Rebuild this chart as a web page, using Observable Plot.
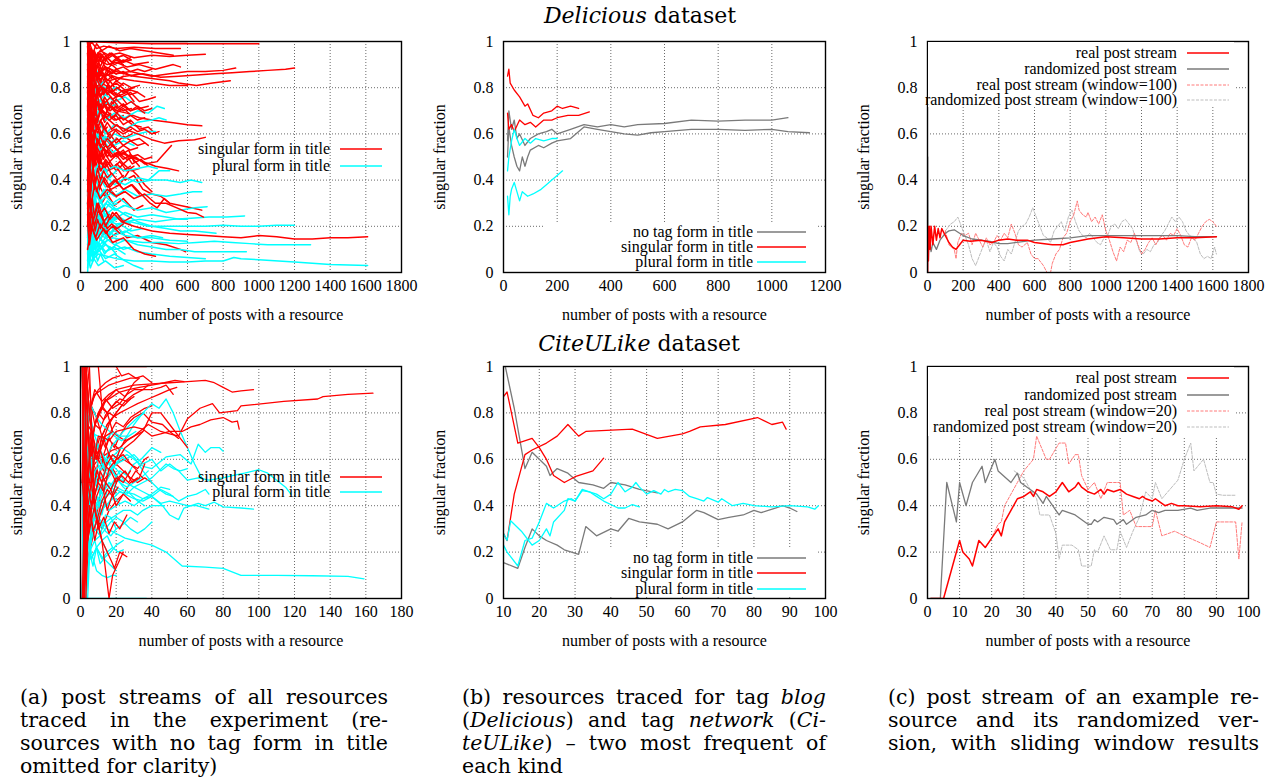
<!DOCTYPE html>
<html><head><meta charset="utf-8">
<script src="https://cdn.jsdelivr.net/npm/d3@7"></script>
<script src="https://cdn.jsdelivr.net/npm/@observablehq/plot@0.6"></script>
<style>
body{margin:0;background:#fff;width:1276px;height:781px;position:relative;overflow:hidden;font-family:"Liberation Serif","Times New Roman",serif;color:#000;}
.panel{position:absolute;}
.panel svg{overflow:visible;}
.title{position:absolute;font-family:"DejaVu Serif",serif;font-size:22px;white-space:nowrap;transform:translate(-50%,-50%);}
.lbox{position:absolute;background:#fff;}
.lrow{position:absolute;font-family:"Liberation Serif","Times New Roman",serif;font-size:16px;white-space:nowrap;transform:translate(-100%,-50%);line-height:16px;}
.lsvg{position:absolute;overflow:visible;}
.cap{position:absolute;width:368px;font-family:"DejaVu Serif",serif;font-size:20.5px;line-height:23px;}
.cap div{text-align:justify;text-align-last:justify;white-space:nowrap;}
.cap div.last{text-align-last:left;}
</style></head>
<body>
<div class="title" style="left:640px;top:15px"><i>Delicious</i> dataset</div>
<div class="title" style="left:639px;top:343px"><i>CiteULike</i> dataset</div>
<script>
// ---------------- tick values ----------------
const yTicks = [0, 0.2, 0.4, 0.6, 0.8, 1];
const xTicksDel = [0, 200, 400, 600, 800, 1000, 1200, 1400, 1600, 1800];
const xTicksBlog = [0, 200, 400, 600, 800, 1000, 1200];
const xTicksCiteAll = [0, 20, 40, 60, 80, 100, 120, 140, 160, 180];
const xTicksCiteNet = [10, 20, 30, 40, 50, 60, 70, 80, 90, 100];
const xTicksCiteEx = [0, 10, 20, 30, 40, 50, 60, 70, 80, 90, 100];

// ---------------- (a) Delicious: all resources, flat [x,y,...] per resource ----------------
const delSingular = [
 [40,1, 150,1, 300,1, 450,1, 600,1],
 [45,1, 200,0.995, 400,0.99, 600,0.99, 800,0.99, 1000,0.99],
 [40,0.95, 60,1, 90,0.97, 130,0.98, 200,0.97, 300,0.975, 420,0.97, 560,0.97],
 [42,0.9, 60,0.97, 80,0.93, 110,0.96, 160,0.94, 220,0.95, 300,0.93, 400,0.94, 500,0.935, 600,0.94, 700,0.945],
 [40,0.85, 55,0.93, 70,0.89, 100,0.92, 150,0.9, 200,0.91, 260,0.89, 330,0.9, 420,0.88, 520,0.9, 560,0.89],
 [40,1, 50,0.8, 65,0.9, 90,0.84, 130,0.88, 200,0.86, 280,0.87, 400,0.85, 500,0.86, 600,0.87, 700,0.87, 800,0.875, 870,0.885],
 [44,0.7, 60,0.85, 80,0.8, 110,0.86, 160,0.83, 250,0.85, 350,0.86, 450,0.845, 550,0.85, 650,0.855, 750,0.86, 850,0.865, 950,0.87, 1050,0.875, 1150,0.88, 1200,0.885],
 [40,0.8, 60,0.92, 90,0.86, 140,0.89, 200,0.87, 300,0.85, 400,0.84, 500,0.83, 550,0.82, 650,0.81, 740,0.82, 840,0.83],
 [48,0.75, 70,0.88, 100,0.83, 150,0.86, 220,0.84, 300,0.83, 400,0.82, 500,0.81, 600,0.81],
 [40,0.6, 55,0.8, 80,0.74, 120,0.8, 170,0.78, 230,0.76, 280,0.78, 330,0.74, 380,0.75, 420,0.76],
 [40,0.7, 60,0.62, 80,0.75, 110,0.7, 150,0.73, 200,0.7, 260,0.69, 330,0.67, 400,0.66, 500,0.65, 600,0.64, 680,0.635],
 [42,0.5, 60,0.7, 90,0.62, 130,0.68, 190,0.64, 250,0.62, 320,0.6, 400,0.575, 470,0.56, 550,0.57, 640,0.575, 700,0.585],
 [40,0.55, 55,0.75, 75,0.68, 100,0.72, 140,0.69, 190,0.66, 240,0.67, 290,0.64, 340,0.63],
 [45,0.9, 60,0.75, 80,0.82, 110,0.77, 150,0.79, 200,0.76, 260,0.78, 300,0.74],
 [40,0.45, 60,0.62, 85,0.55, 120,0.6, 160,0.56, 220,0.52, 280,0.5, 350,0.48, 420,0.46, 490,0.45, 550,0.44],
 [40,0.35, 55,0.6, 75,0.5, 100,0.57, 140,0.52, 180,0.55, 230,0.51, 270,0.53, 300,0.48],
 [40,0.3, 60,0.5, 80,0.42, 110,0.48, 150,0.44, 200,0.46, 250,0.4, 300,0.42, 350,0.36, 400,0.34, 450,0.33, 500,0.3, 560,0.29, 620,0.28, 680,0.27],
 [40,0.4, 55,0.28, 80,0.38, 110,0.32, 150,0.36, 200,0.33, 250,0.35, 300,0.32, 360,0.34, 420,0.3, 480,0.3, 540,0.28, 600,0.26, 650,0.255, 690,0.24],
 [40,0.25, 60,0.42, 90,0.35, 120,0.4, 170,0.36, 220,0.38, 280,0.45, 320,0.42, 360,0.38, 400,0.35],
 [40,0.2, 50,0.35, 70,0.22, 100,0.3, 140,0.2, 180,0.26, 230,0.22, 300,0.2, 400,0.18, 500,0.17, 600,0.165, 700,0.16, 800,0.155, 900,0.15, 1000,0.16, 1100,0.155, 1200,0.145, 1300,0.145, 1400,0.15, 1500,0.15, 1610,0.155],
 [42,0.15, 60,0.25, 80,0.18, 120,0.22, 160,0.16, 200,0.2, 260,0.15, 320,0.16, 400,0.13, 480,0.12, 560,0.1, 590,0.09],
 [40,0.1, 60,0.2, 90,0.14, 130,0.19, 180,0.13, 240,0.15, 300,0.1, 360,0.08, 420,0.07],
 [40,0.65, 50,0.45, 70,0.58, 100,0.5, 140,0.55, 190,0.5, 240,0.53, 290,0.47, 340,0.49, 380,0.46],
 [40,0.8, 50,0.95, 70,0.9, 100,0.95, 140,0.92, 180,0.94, 230,0.91, 280,0.93],
 [40,0.75, 52,0.65, 70,0.72, 90,0.66, 120,0.7, 160,0.66, 200,0.68, 240,0.64, 280,0.66, 330,0.62, 380,0.63, 420,0.6],
 [46,0.6, 60,0.5, 80,0.56, 100,0.48, 130,0.54, 170,0.5, 210,0.52, 260,0.49, 310,0.5, 360,0.47, 430,0.48, 510,0.55],
 [40,0.88, 55,0.78, 70,0.85, 95,0.79, 120,0.82, 160,0.8, 200,0.82, 250,0.79, 300,0.8],
 [40,0.5, 52,0.3, 68,0.45, 90,0.35, 120,0.42, 150,0.37, 190,0.4, 240,0.36, 290,0.38, 340,0.34, 390,0.3, 430,0.28, 470,0.32, 500,0.3],
 [40,0.92, 52,0.99, 70,0.95, 90,0.99, 120,0.96, 160,0.98, 220,0.96, 280,0.97, 360,0.96, 440,0.95, 520,0.94],
 [40,0.68, 50,0.85, 65,0.76, 85,0.82, 110,0.76, 140,0.79, 180,0.75, 220,0.77, 260,0.73],
 [40,0.38, 50,0.55, 65,0.45, 85,0.52, 110,0.44, 140,0.49, 180,0.45, 220,0.48, 260,0.44, 300,0.46],
 [40,0.22, 50,0.12, 65,0.2, 85,0.15, 110,0.21, 140,0.17, 180,0.2, 220,0.17],
 [40,0.58, 48,0.72, 60,0.6, 75,0.68, 95,0.6, 120,0.65, 150,0.6, 190,0.62, 240,0.58, 290,0.6],
 [40,0.82, 50,0.7, 62,0.8, 80,0.72, 100,0.78, 130,0.73, 170,0.76, 210,0.72],
 [40,0.98, 48,0.88, 60,0.95, 75,0.9, 95,0.94, 120,0.91, 150,0.93, 190,0.9, 240,0.92, 300,0.9, 380,0.91],
 [40,0.28, 50,0.18, 62,0.26, 78,0.2, 100,0.27, 130,0.22, 160,0.25],
 [40,0.72, 48,0.55, 60,0.66, 75,0.58, 95,0.64, 120,0.6, 150,0.63],
 [40,1, 47,0.75, 58,0.85, 72,0.78, 90,0.84, 115,0.8, 140,0.83, 180,0.79],
 [40,0.42, 48,0.25, 60,0.36, 75,0.3, 95,0.35, 120,0.3, 150,0.34, 190,0.29, 240,0.32, 300,0.27, 350,0.29],
 [40,0.62, 47,0.4, 58,0.52, 72,0.45, 90,0.5, 115,0.44, 140,0.48, 170,0.43],
 [40,0.95, 48,0.7, 56,0.88, 66,0.74, 78,0.86, 92,0.76, 110,0.84, 135,0.78, 165,0.83, 200,0.79, 240,0.82, 285,0.8, 330,0.81],
 [40,0.6, 48,0.85, 56,0.68, 66,0.8, 78,0.7, 92,0.78, 110,0.71, 135,0.76, 165,0.72, 200,0.75, 240,0.72, 285,0.74, 330,0.71, 380,0.72],
 [40,0.85, 48,0.62, 56,0.78, 66,0.66, 78,0.75, 92,0.67, 110,0.73, 135,0.68, 165,0.72, 200,0.69, 240,0.71, 285,0.68],
 [40,1, 48,0.9, 56,0.97, 66,0.91, 78,0.96, 92,0.92, 110,0.95, 135,0.93, 165,0.95, 200,0.93, 240,0.94, 285,0.92],
 [40,0.7, 48,0.52, 56,0.64, 66,0.55, 78,0.62, 92,0.56, 110,0.61, 135,0.57, 165,0.6, 200,0.56, 240,0.59, 285,0.57, 330,0.58, 380,0.55],
 [40,0.5, 48,0.68, 56,0.56, 66,0.65, 78,0.58, 92,0.64, 110,0.59, 135,0.63, 165,0.58, 200,0.62, 240,0.6, 285,0.62],
 [40,0.9, 48,1, 56,0.85, 66,0.95, 78,0.88, 92,0.94, 110,0.89, 135,0.93, 165,0.9, 200,0.92, 240,0.9],
 [40,0.4, 48,0.58, 56,0.46, 66,0.55, 78,0.48, 92,0.53, 110,0.47, 135,0.52, 165,0.48, 200,0.51, 240,0.47, 285,0.5, 330,0.46],
 [40,0.78, 48,0.6, 56,0.73, 66,0.63, 78,0.71, 92,0.64, 110,0.7, 135,0.65, 165,0.69, 200,0.66, 240,0.68],
 [40,0.3, 48,0.45, 56,0.35, 66,0.43, 78,0.36, 92,0.42, 110,0.37, 135,0.41, 165,0.37, 200,0.4, 240,0.36, 285,0.38, 330,0.34],
 [40,0.65, 48,0.9, 56,0.75, 66,0.86, 78,0.78, 92,0.85, 110,0.8, 135,0.84, 165,0.8, 200,0.83, 240,0.81],
 [40,0.2, 48,0.35, 56,0.25, 66,0.32, 78,0.24, 92,0.3, 110,0.25, 135,0.28, 165,0.23, 200,0.26, 240,0.22, 285,0.24],
 [40,0.55, 48,0.4, 56,0.52, 66,0.43, 78,0.5, 92,0.44, 110,0.49, 135,0.45, 165,0.48, 200,0.44, 240,0.47, 285,0.44, 330,0.45],
 [40,0.98, 48,0.8, 56,0.92, 66,0.83, 78,0.9, 92,0.84, 110,0.89, 135,0.85, 165,0.88, 200,0.86, 240,0.87, 285,0.85, 330,0.86],
 [40,0.1, 48,0.22, 56,0.14, 66,0.2, 78,0.15, 92,0.19, 110,0.14, 135,0.18, 165,0.15, 200,0.17],
 [40,0.75, 48,0.95, 56,0.82, 66,0.92, 78,0.84, 92,0.9, 110,0.85, 135,0.89, 165,0.86, 200,0.88, 240,0.86],
 [40,0.45, 48,0.3, 56,0.4, 66,0.32, 78,0.38, 92,0.33, 110,0.37, 135,0.33, 165,0.36, 200,0.33, 240,0.35],
 [40,0.62, 48,0.78, 56,0.66, 66,0.76, 78,0.68, 92,0.74, 110,0.69, 135,0.73, 165,0.7, 200,0.72, 240,0.7, 285,0.71],
 [40,0.9, 46,0.6, 52,0.8, 60,0.65, 70,0.78, 82,0.68, 96,0.76, 112,0.69, 130,0.75, 150,0.7, 175,0.74, 205,0.71, 240,0.73, 280,0.7, 320,0.72, 360,0.7, 400,0.71],
 [40,0.5, 46,0.8, 52,0.62, 60,0.76, 70,0.64, 82,0.73, 96,0.65, 112,0.71, 130,0.66, 150,0.7, 175,0.67, 205,0.69, 240,0.66, 280,0.68, 320,0.66, 360,0.67],
 [40,1, 46,0.83, 52,0.93, 60,0.85, 70,0.91, 82,0.86, 96,0.9, 112,0.87, 130,0.9, 150,0.88, 175,0.9, 205,0.88, 240,0.89, 280,0.87, 320,0.88, 360,0.87, 400,0.88],
 [40,0.67, 46,0.5, 52,0.62, 60,0.52, 70,0.6, 82,0.53, 96,0.58, 112,0.54, 130,0.57, 150,0.54, 175,0.56, 205,0.53, 240,0.55, 280,0.53, 320,0.54],
 [40,0.8, 46,1, 52,0.86, 60,0.96, 70,0.88, 82,0.95, 96,0.89, 112,0.94, 130,0.9, 150,0.93, 175,0.91, 205,0.93, 240,0.91, 280,0.92],
 [40,0.57, 46,0.71, 52,0.6, 60,0.69, 70,0.61, 82,0.67, 96,0.62, 112,0.66, 130,0.62, 150,0.65, 175,0.62, 205,0.64, 240,0.61, 280,0.63, 320,0.61, 360,0.62, 400,0.6, 440,0.61],
 [40,0.33, 46,0.6, 52,0.45, 60,0.57, 70,0.47, 82,0.55, 96,0.48, 112,0.54, 130,0.49, 150,0.53, 175,0.5, 205,0.52, 240,0.49, 280,0.51, 320,0.49],
 [40,0.88, 46,0.72, 52,0.84, 60,0.74, 70,0.82, 82,0.75, 96,0.81, 112,0.76, 130,0.8, 150,0.77, 175,0.79, 205,0.77, 240,0.79, 280,0.77, 320,0.78, 360,0.76],
 [40,0.62, 46,0.9, 52,0.72, 60,0.86, 70,0.75, 82,0.83, 96,0.76, 112,0.82, 130,0.77, 150,0.81, 175,0.78, 205,0.8, 240,0.78, 280,0.79],
 [40,0.45, 46,0.65, 52,0.52, 60,0.62, 70,0.54, 82,0.6, 96,0.55, 112,0.59, 130,0.55, 150,0.58, 175,0.56, 205,0.58, 240,0.55, 280,0.57, 320,0.55, 360,0.56],
 [40,0.95, 46,0.78, 52,0.9, 60,0.8, 70,0.88, 82,0.81, 96,0.87, 112,0.82, 130,0.86, 150,0.83, 175,0.85, 205,0.83, 240,0.85],
 [40,0.72, 46,0.85, 52,0.74, 60,0.83, 70,0.76, 82,0.82, 96,0.77, 112,0.81, 130,0.77, 150,0.8, 175,0.78, 205,0.8, 240,0.78, 280,0.79, 320,0.78],
 [40,0.4, 46,0.55, 52,0.42, 60,0.52, 70,0.44, 82,0.5, 96,0.44, 112,0.49, 130,0.45, 150,0.48, 175,0.45, 205,0.47, 240,0.44, 280,0.46],
 [40,0.83, 46,0.65, 52,0.77, 60,0.67, 70,0.75, 82,0.68, 96,0.74, 112,0.69, 130,0.73, 150,0.7, 175,0.72, 205,0.7, 240,0.72, 280,0.7, 320,0.71, 360,0.69],
 [40,1, 46,0.88, 52,0.97, 60,0.9, 70,0.96, 82,0.92, 96,0.95, 112,0.92, 130,0.95, 150,0.93, 175,0.95, 205,0.93, 240,0.94],
 [40,0.55, 46,0.35, 52,0.48, 60,0.38, 70,0.46, 82,0.39, 96,0.45, 112,0.4, 130,0.44, 150,0.41, 175,0.43, 205,0.4, 240,0.42],
 [40,0.7, 46,0.95, 52,0.8, 60,0.92, 70,0.83, 82,0.9, 96,0.84, 112,0.89, 130,0.85, 150,0.88, 175,0.86, 205,0.88],
 [40,0.3, 46,0.15, 52,0.26, 60,0.17, 70,0.24, 82,0.18, 96,0.23, 112,0.19, 130,0.22, 150,0.19, 175,0.21, 205,0.19, 240,0.21],
 [40,0.6, 46,0.45, 52,0.58, 60,0.47, 70,0.56, 82,0.48, 96,0.55, 112,0.49, 130,0.54, 150,0.5, 175,0.53, 205,0.5, 240,0.52, 280,0.5, 320,0.51, 360,0.49, 400,0.5],
 [40,0.78, 46,0.92, 52,0.8, 60,0.9, 70,0.82, 82,0.88, 96,0.83, 112,0.87, 130,0.83, 150,0.86, 175,0.84]
];
const delPlural = [
 [40,0.1, 60,0.05, 100,0.08, 200,0.06, 300,0.05, 400,0.05, 500,0.045, 600,0.045, 700,0.05, 800,0.05, 860,0.065, 900,0.06, 1000,0.055, 1200,0.045, 1400,0.035, 1610,0.03],
 [40,0.2, 60,0.12, 90,0.17, 130,0.13, 180,0.15, 250,0.14, 350,0.13, 450,0.13, 550,0.125, 650,0.13, 750,0.135, 850,0.13, 950,0.125, 1050,0.12, 1150,0.12, 1290,0.12],
 [40,0.3, 55,0.18, 75,0.25, 100,0.2, 140,0.23, 200,0.21, 280,0.22, 380,0.2, 480,0.2, 580,0.2, 700,0.2, 800,0.205, 900,0.2, 1000,0.2, 1100,0.205, 1200,0.205],
 [40,0.15, 55,0.28, 75,0.2, 100,0.25, 140,0.21, 190,0.24, 250,0.22, 330,0.23, 420,0.22, 520,0.23, 620,0.235, 720,0.24, 820,0.24, 920,0.245],
 [40,0.4, 55,0.25, 75,0.32, 100,0.26, 140,0.3, 190,0.27, 250,0.29, 320,0.27, 400,0.28, 480,0.26, 560,0.27, 640,0.28, 710,0.285],
 [40,0.45, 55,0.3, 75,0.38, 100,0.32, 140,0.36, 190,0.33, 250,0.36, 320,0.33, 400,0.34, 480,0.33, 560,0.34, 630,0.35, 680,0.35],
 [40,0.5, 55,0.35, 75,0.44, 100,0.37, 140,0.42, 190,0.38, 250,0.41, 320,0.39, 400,0.4, 480,0.4, 560,0.39, 620,0.4, 680,0.39],
 [40,0.6, 55,0.72, 75,0.65, 100,0.7, 140,0.66, 190,0.69, 250,0.67, 320,0.7, 380,0.69, 430,0.72, 470,0.71],
 [40,0.55, 55,0.68, 75,0.62, 100,0.66, 140,0.6, 190,0.64, 250,0.62, 320,0.65, 400,0.66, 440,0.67, 480,0.66],
 [40,0.5, 55,0.62, 75,0.55, 100,0.6, 140,0.57, 190,0.6, 250,0.58, 320,0.6, 380,0.61, 420,0.61],
 [40,0.8, 55,0.72, 75,0.78, 100,0.74, 140,0.77, 190,0.74, 250,0.76, 300,0.73],
 [40,0.25, 55,0.1, 75,0.16, 100,0.11, 140,0.15, 190,0.12, 250,0.14, 320,0.12, 400,0.11, 480,0.1, 560,0.1, 640,0.09, 760,0.09, 860,0.09, 930,0.09],
 [40,0.05, 55,0.12, 75,0.07, 100,0.1, 140,0.06, 190,0.08, 250,0.05, 300,0.03, 350,0.015],
 [40,0.35, 55,0.2, 75,0.28, 100,0.22, 140,0.27, 190,0.23, 250,0.26, 320,0.24, 400,0.25, 480,0.24, 560,0.23, 600,0.23],
 [40,0.18, 55,0.32, 75,0.24, 100,0.3, 140,0.25, 190,0.28, 250,0.25, 320,0.22, 400,0.2, 480,0.19, 560,0.18, 640,0.18, 760,0.17],
 [40,0.12, 55,0.22, 75,0.15, 100,0.2, 140,0.16, 190,0.18, 250,0.16, 320,0.15, 400,0.15, 500,0.14, 600,0.135],
 [40,0.7, 55,0.82, 75,0.76, 100,0.8, 140,0.77, 190,0.8, 240,0.78],
 [40,0.3, 55,0.45, 75,0.36, 100,0.42, 140,0.37, 190,0.4, 250,0.38, 320,0.41, 380,0.4, 440,0.44, 500,0.44],
 [40,0.08, 55,0.02, 75,0.06, 100,0.03, 140,0.05, 190,0.02, 240,0.03],
 [40,0.22, 55,0.08, 75,0.14, 100,0.09, 140,0.12, 190,0.1, 250,0.11, 320,0.09, 400,0.08, 500,0.07, 600,0.065, 700,0.06],
 [40,0.65, 55,0.55, 75,0.6, 100,0.56, 140,0.59, 190,0.55, 240,0.57, 300,0.55],
 [40,0.92, 50,0.85, 65,0.9, 85,0.86, 110,0.88],
 [40,0.38, 55,0.5, 75,0.43, 100,0.47, 140,0.44, 190,0.46, 250,0.44, 320,0.45, 380,0.46, 430,0.45],
 [40,0.28, 55,0.14, 75,0.2, 100,0.16, 140,0.19, 190,0.16, 250,0.18, 320,0.15, 400,0.16, 460,0.15],
 [40,0.02, 55,0.15, 75,0.08, 100,0.13, 140,0.09, 190,0.11, 250,0.08],
 [40,0.16, 50,0.26, 65,0.19, 85,0.24, 110,0.2, 140,0.22, 180,0.19, 220,0.21, 280,0.18, 350,0.19],
 [40,0.85, 50,0.78, 65,0.83, 85,0.79, 110,0.81, 140,0.8],
 [40,0.45, 50,0.6, 65,0.52, 85,0.57, 110,0.53, 140,0.56, 180,0.52, 220,0.54],
 [40,0.1, 50,0.3, 65,0.22, 85,0.27, 110,0.22, 140,0.25, 180,0.22, 220,0.24, 280,0.21],
 [40,0.25, 50,0.38, 65,0.3, 85,0.35, 110,0.3, 140,0.33, 180,0.3, 220,0.32, 270,0.29],
 [40,0.12, 48,0.25, 56,0.16, 66,0.23, 78,0.17, 92,0.22, 110,0.17, 135,0.21, 165,0.17, 200,0.2, 240,0.17, 285,0.19],
 [40,0.3, 48,0.15, 56,0.26, 66,0.17, 78,0.24, 92,0.18, 110,0.23, 135,0.19, 165,0.22, 200,0.19, 240,0.21],
 [40,0.05, 48,0.18, 56,0.09, 66,0.16, 78,0.1, 92,0.14, 110,0.1, 135,0.13, 165,0.1, 200,0.12, 240,0.1, 285,0.11],
 [40,0.4, 48,0.22, 56,0.34, 66,0.25, 78,0.32, 92,0.26, 110,0.31, 135,0.27, 165,0.3, 200,0.27, 240,0.29],
 [40,0.2, 48,0.05, 56,0.15, 66,0.07, 78,0.13, 92,0.08, 110,0.12, 135,0.08, 165,0.11, 200,0.08],
 [40,0.5, 48,0.65, 56,0.55, 66,0.62, 78,0.56, 92,0.6, 110,0.56, 135,0.59, 165,0.56, 200,0.58],
 [40,0.35, 48,0.5, 56,0.4, 66,0.47, 78,0.41, 92,0.46, 110,0.42, 135,0.45, 165,0.41, 200,0.44],
 [40,0.75, 48,0.88, 56,0.8, 66,0.85, 78,0.8, 92,0.84, 110,0.81, 135,0.83],
 [40,0.15, 48,0.3, 56,0.2, 66,0.27, 78,0.21, 92,0.26, 110,0.22, 135,0.25, 165,0.22, 200,0.24, 240,0.22],
 [40,0.25, 48,0.12, 56,0.2, 66,0.13, 78,0.19, 92,0.14, 110,0.18, 135,0.15, 165,0.17],
 [40,0.65, 46,0.8, 52,0.68, 60,0.77, 70,0.7, 82,0.76, 96,0.71, 112,0.75, 130,0.72, 150,0.74, 175,0.72, 205,0.73],
 [40,0.3, 46,0.1, 52,0.22, 60,0.12, 70,0.2, 82,0.13, 96,0.19, 112,0.14, 130,0.18, 150,0.15, 175,0.17],
 [40,0.2, 46,0.38, 52,0.26, 60,0.35, 70,0.27, 82,0.33, 96,0.28, 112,0.32, 130,0.28, 150,0.31, 175,0.29, 205,0.3],
 [40,0.08, 46,0.2, 52,0.1, 60,0.18, 70,0.11, 82,0.16, 96,0.11, 112,0.15, 130,0.12, 150,0.14],
 [40,0.45, 46,0.28, 52,0.4, 60,0.3, 70,0.38, 82,0.31, 96,0.37, 112,0.32, 130,0.36, 150,0.33, 175,0.35],
 [40,0, 46,0.12, 52,0.04, 60,0.1, 70,0.05, 82,0.09, 96,0.05, 112,0.08, 130,0.05]
];

// ---------------- (a) CiteULike: all resources ----------------
const citeSingular = [
 [1,1, 10,1, 20,1, 30,1, 37,1],
 [2,0, 3,1, 5,0.8, 8,0.9, 12,0.85, 16,0.88, 20,0.9, 25,0.91, 30,0.92, 40,0.925, 50,0.93, 60,0.935, 70,0.94, 75,0.93, 80,0.91, 85,0.89, 90,0.895, 97,0.9],
 [1,0.5, 3,1, 5,0.5, 7,0.7, 10,0.6, 14,0.62, 18,0.64, 22,0.65, 26,0.68, 30,0.7, 38,0.75, 45,0.72, 50,0.71, 55,0.7, 60,0.775, 67,0.82, 74,0.84, 78,0.8, 88,0.81, 90,0.83, 114,0.85, 133,0.86, 136,0.87, 150,0.88, 164,0.885],
 [2,1, 4,0.5, 6,0.75, 9,0.6, 12,0.7, 16,0.68, 20,0.72, 25,0.73, 30,0.74, 35,0.73, 40,0.7, 45,0.71, 50,0.72, 57,0.72, 62,0.74, 67,0.75, 73,0.77, 80,0.78, 85,0.76, 88,0.765, 89,0.73],
 [1,0, 2,0.5, 4,0.33, 6,0.6, 9,0.55, 12,0.7, 15,0.75, 20,0.8, 25,0.85, 30,0.88, 35,0.9, 40,0.9, 45,0.91, 48,0.92, 52,0.88],
 [3,1, 5,0.6, 8,0.75, 11,0.8, 14,0.85, 18,0.87, 22,0.89, 27,0.9, 33,0.91, 40,0.92, 47,0.93, 53,0.94, 58,0.935],
 [1,1, 3,0.67, 5,0.8, 8,0.88, 12,0.9, 16,0.92, 20,0.93, 24,0.94, 28,0.95, 32,0.95],
 [2,0, 4,0.5, 6,0.4, 9,0.55, 12,0.5, 15,0.58, 18,0.62, 21,0.6, 25,0.65, 30,0.68, 35,0.72, 40,0.8, 45,0.8, 50,0.75, 55,0.7, 60,0.65],
 [1,0, 5,0.2, 8,0.3, 11,0.45, 14,0.5, 17,0.55, 20,0.58, 24,0.6, 28,0.58, 32,0.56, 36,0.6, 38,0.61],
 [2,1, 4,0.25, 6,0.33, 9,0.44, 12,0.5, 15,0.38, 18,0.45, 21,0.52, 25,0.55, 29,0.5, 33,0.52, 36,0.58],
 [1,0, 3,0, 5,0.2, 8,0.37, 12,0.3, 16,0.38, 20,0.42, 24,0.45, 28,0.5, 32,0.52],
 [1,1, 3,0.33, 6,0.5, 9,0.35, 12,0.25, 15,0.2, 18,0.15, 19,0.13, 22,0.2, 26,0.18],
 [2,0.5, 4,0.75, 7,0.57, 10,0.6, 13,0.55, 16,0.62, 20,0.58, 24,0.55, 28,0.52, 32,0.5, 36,0.52, 40,0.5],
 [1,1, 2,0.5, 4,0.75, 7,0.71, 10,0.8, 14,0.86, 18,0.82, 22,0.84, 26,0.88, 30,0.9, 35,0.9, 38,0.92],
 [3,0, 5,0.4, 7,0.57, 10,0.5, 13,0.62, 16,0.69, 19,0.65, 22,0.7, 26,0.75, 30,0.78, 35,0.8, 40,0.76, 46,0.75, 50,0.72, 55,0.69],
 [1,0.5, 3,0.33, 5,0.6, 8,0.44, 11,0.55, 14,0.5, 17,0.47, 20,0.4, 24,0.45, 28,0.42],
 [2,1, 4,0.5, 6,0.67, 9,0.78, 12,0.7, 15,0.75, 18,0.78, 22,0.8, 27,0.82, 32,0.84, 38,0.86, 44,0.88, 50,0.9, 54,0.91],
 [1,0, 4,0.25, 7,0.43, 10,0.3, 13,0.35, 16,0.28, 19,0.33, 22,0.3, 26,0.36],
 [1,1, 3,1, 5,0.8, 7,0.86, 10,0.9, 14,0.93, 18,0.95, 22,0.96],
 [2,0, 4,0.33, 7,0.43, 10,0.5, 13,0.46, 16,0.56, 20,0.6, 24,0.62, 28,0.58, 32,0.55],
 [1,1, 5,0.6, 8,0.62, 11,0.7, 14,0.65, 17,0.72, 20,0.76, 24,0.74, 28,0.78, 32,0.8, 36,0.82, 40,0.83],
 [3,1, 5,0.8, 8,0.6, 11,0.64, 14,0.57, 17,0.55, 20,0.5, 23,0.53, 27,0.5, 31,0.55, 35,0.52],
 [1,0.5, 3,0.67, 6,0.83, 9,0.78, 12,0.82, 15,0.8, 18,0.83, 22,0.86, 26,0.85, 30,0.87],
 [2,0, 5,0.4, 8,0.25, 11,0.36, 14,0.43, 17,0.47, 20,0.52, 24,0.5, 28,0.55],
 [4,1, 6,0.83, 9,0.78, 12,0.83, 15,0.8, 18,0.72, 21,0.7, 25,0.68, 30,0.7, 35,0.72],
 [5,1, 8,0.38, 12,0.25, 16,0, 18,0.1, 21,0.15, 24,0.2],
 [10,1, 12,0.83, 15,0.86, 20,0.9, 25,0.87, 30,0.93, 33,0.95],
 [20,1, 23,0.96, 27,0.97, 31,0.95, 35,0.96, 40,0.93],
 [1,0, 2,1, 3,0.67, 4,0.75, 6,0.83, 8,0.75, 10,0.8, 13,0.77, 16,0.8, 20,0.78],
 [1,1, 2,0, 3,0.33, 4,0.5, 6,0.67, 8,0.62, 11,0.64, 14,0.7, 18,0.72],
 [1,1, 2,0.5, 3,0.67, 5,0.4, 7,0.57, 9,0.67, 12,0.58, 15,0.6, 18,0.67, 22,0.64, 26,0.7],
 [1,0, 3,0.67, 4,0.5, 6,0.5, 8,0.62, 10,0.7, 13,0.69, 16,0.75, 19,0.79, 23,0.83],
 [2,1, 3,0.67, 5,0.6, 7,0.43, 9,0.56, 12,0.5, 15,0.53, 18,0.56, 21,0.52],
 [1,0.5, 2,1, 4,0.75, 6,0.5, 8,0.62, 10,0.6, 13,0.69, 16,0.62, 19,0.58, 22,0.64],
 [1,0, 2,0, 4,0.5, 6,0.67, 8,0.75, 11,0.73, 14,0.79, 17,0.82, 20,0.85, 24,0.83, 28,0.86],
 [3,0, 4,0.25, 5,0.4, 7,0.29, 9,0.33, 12,0.42, 15,0.47, 18,0.44, 21,0.48]
];
const citePlural = [
 [1,0, 10,0, 20,0, 30,0, 37,0],
 [2,1, 4,0.5, 7,0.43, 10,0.35, 15,0.3, 20,0.28, 25,0.26, 30,0.25, 35,0.24, 40,0.23, 48,0.2, 57,0.14, 70,0.135, 80,0.13, 90,0.1, 110,0.1, 130,0.098, 150,0.095, 159,0.085],
 [1,1, 3,0.5, 6,0.6, 9,0.5, 12,0.45, 16,0.5, 20,0.48, 25,0.46, 30,0.45, 35,0.43, 40,0.44, 46,0.4, 50,0.36, 55,0.34, 58,0.39, 62,0.4, 66,0.41, 70,0.4, 75,0.415, 80,0.395, 90,0.39, 97,0.385],
 [2,0, 4,0.25, 7,0.43, 10,0.5, 14,0.55, 18,0.57, 22,0.6, 26,0.62, 30,0.6, 35,0.57, 40,0.56, 48,0.61, 56,0.62, 62,0.58, 66,0.665, 70,0.63, 73,0.65, 78,0.65, 80,0.635],
 [1,0.5, 3,0.67, 6,0.5, 9,0.56, 12,0.58, 16,0.55, 20,0.58, 25,0.6, 30,0.62, 35,0.58, 40,0.6, 45,0.55, 50,0.58, 55,0.55, 60,0.51, 66,0.52, 72,0.51, 80,0.52, 85,0.53, 92,0.54, 100,0.555, 105,0.54, 110,0.51, 115,0.48, 118,0.45],
 [3,0, 5,0.2, 8,0.37, 12,0.42, 16,0.45, 20,0.47, 25,0.45, 30,0.43, 35,0.42, 40,0.44, 45,0.41, 50,0.42, 55,0.41, 60,0.4, 65,0.4, 72,0.385],
 [1,1, 4,0.75, 7,0.71, 10,0.7, 14,0.68, 18,0.72, 22,0.7, 26,0.7, 30,0.75, 35,0.8, 40,0.84, 44,0.82, 48,0.86, 52,0.8, 56,0.72, 60,0.65, 64,0.58, 68,0.52],
 [2,0.5, 4,0.33, 7,0.29, 10,0.3, 13,0.32, 16,0.34, 20,0.36, 24,0.38, 28,0.38, 32,0.36, 35,0.38, 40,0.4, 47,0.4],
 [1,0, 3,0.33, 6,0.2, 9,0.12, 12,0.1, 15,0.09, 18,0.1, 20,0.1],
 [1,1, 3,0.67, 5,0.6, 8,0.5, 11,0.55, 15,0.6, 19,0.62, 23,0.65, 27,0.63, 31,0.6, 35,0.55, 40,0.5, 44,0.47, 48,0.45, 52,0.44],
 [2,0, 4,0.25, 6,0.17, 9,0.22, 12,0.25, 15,0.2, 18,0.22, 21,0.2, 24,0.21],
 [1,0.5, 4,0.4, 7,0.33, 10,0.36, 14,0.4, 18,0.43, 22,0.46, 26,0.45, 30,0.48, 35,0.46, 40,0.44, 45,0.47, 50,0.45, 55,0.42, 60,0.44, 65,0.45, 70,0.47, 72,0.45],
 [3,1, 5,0.6, 8,0.5, 11,0.45, 14,0.5, 18,0.55, 22,0.5, 26,0.48, 30,0.5, 34,0.52, 38,0.55],
 [1,0, 2,0.5, 5,0.4, 8,0.3, 11,0.27, 14,0.3, 17,0.33, 20,0.35, 24,0.33, 28,0.3, 32,0.28, 36,0.3, 40,0.33],
 [2,1, 4,0.75, 6,0.83, 9,0.78, 12,0.75, 15,0.73, 19,0.7, 23,0.68, 27,0.7, 31,0.72],
 [1,0.5, 3,0.33, 6,0.17, 9,0.22, 12,0.18, 16,0.15, 20,0.12],
 [4,0, 6,0.33, 9,0.44, 12,0.36, 15,0.47, 18,0.5, 22,0.55, 26,0.53, 30,0.58, 34,0.6, 40,0.65, 45,0.63],
 [1,0, 3,0.67, 5,0.4, 8,0.38, 11,0.33, 14,0.29, 17,0.27, 20,0.3, 24,0.32, 28,0.35, 32,0.33],
 [2,0.5, 5,0.6, 8,0.62, 11,0.55, 14,0.6, 17,0.65, 20,0.68, 24,0.72, 28,0.75, 32,0.78, 36,0.8],
 [1,1, 3,0.33, 6,0.33, 9,0.4, 12,0.42, 16,0.38, 20,0.4, 25,0.42, 30,0.4, 35,0.43, 40,0.45, 45,0.48, 50,0.47],
 [3,0.5, 5,0.2, 8,0.25, 11,0.15, 14,0.18, 17,0.2, 20,0.23, 24,0.25],
 [1,0, 4,0.5, 6,0.57, 9,0.67, 12,0.62, 16,0.58, 20,0.52, 24,0.48, 28,0.45, 32,0.42, 36,0.4],
 [2,1, 5,0.8, 8,0.7, 11,0.64, 14,0.6, 17,0.58, 21,0.55, 25,0.5, 30,0.48, 35,0.5, 40,0.52, 44,0.55, 48,0.58, 52,0.56, 56,0.55, 60,0.56],
 [1,1, 2,0.5, 3,0.33, 5,0.2, 7,0.29, 9,0.33, 12,0.25, 15,0.27, 18,0.22],
 [1,0, 2,0.5, 3,0.67, 5,0.6, 7,0.43, 9,0.44, 12,0.42, 15,0.4, 18,0.44, 22,0.41],
 [1,0, 2,0, 3,0, 5,0.2, 7,0.14, 9,0.22, 12,0.17, 15,0.2],
 [1,1, 2,1, 3,0.67, 5,0.4, 7,0.43, 10,0.4, 13,0.46, 16,0.5, 20,0.45],
 [2,0, 3,0.33, 4,0.5, 6,0.33, 8,0.38, 11,0.45, 14,0.5, 17,0.47, 21,0.52, 25,0.5],
 [1,0.5, 2,0, 4,0.25, 6,0.33, 8,0.25, 11,0.27, 14,0.36, 17,0.35, 20,0.3],
 [1,1, 3,0.33, 5,0.6, 7,0.57, 9,0.67, 12,0.58, 15,0.53, 18,0.56, 22,0.6],
 [1,0, 2,0.5, 3,0.33, 5,0.4, 8,0.5, 11,0.45, 14,0.57, 17,0.59, 21,0.62, 25,0.6]
];

// ---------------- (b) Delicious, tag "blog" ----------------
const blogNoTag = [
 [15,0.57, 20,0.7, 30,0.62, 40,0.66, 50,0.58, 60,0.6, 80,0.55, 100,0.58, 130,0.6, 160,0.61, 180,0.62, 200,0.6, 250,0.62, 300,0.64, 350,0.63, 400,0.64, 450,0.63, 500,0.64, 600,0.645, 700,0.66, 800,0.655, 900,0.66, 1000,0.66, 1060,0.67],
 [15,0.5, 20,0.63, 30,0.55, 40,0.5, 50,0.46, 60,0.44, 70,0.5, 80,0.46, 90,0.5, 100,0.53, 130,0.55, 150,0.54, 180,0.56, 200,0.57, 250,0.58, 300,0.63, 350,0.62, 400,0.61, 450,0.6, 500,0.595, 550,0.605, 600,0.61, 700,0.62, 800,0.62, 900,0.615, 1000,0.62, 1060,0.61, 1140,0.605]
];
const blogSingular = [
 [15,0.85, 20,0.88, 25,0.82, 40,0.79, 60,0.76, 80,0.72, 90,0.73, 110,0.68, 130,0.67, 150,0.69, 180,0.7, 200,0.72, 220,0.71, 250,0.72, 280,0.71],
 [15,0.69, 20,0.62, 30,0.64, 40,0.61, 60,0.66, 80,0.64, 100,0.65, 120,0.63, 150,0.66, 180,0.66, 200,0.67, 240,0.68, 280,0.68, 320,0.695]
];
const blogPlural = [
 [15,0.44, 20,0.5, 30,0.57, 40,0.62, 50,0.58, 60,0.55, 80,0.58, 100,0.56, 120,0.58, 150,0.57, 180,0.58, 200,0.58],
 [15,0.33, 20,0.25, 25,0.33, 30,0.36, 40,0.39, 50,0.35, 60,0.31, 70,0.35, 90,0.33, 110,0.34, 140,0.36, 160,0.38, 180,0.4, 200,0.42, 220,0.44]
];

// ---------------- (b) CiteULike, tag "network" ----------------
const netNoTag = [
 [10.5,1, 13,0.82, 16,0.56, 18,0.63, 20,0.6, 22,0.57, 23,0.53, 25,0.56, 28,0.54, 31,0.5, 35,0.49, 38,0.475, 40,0.5, 44,0.49, 48,0.47, 53,0.455],
 [10,0.155, 14,0.13, 16,0.22, 18,0.3, 20,0.27, 22,0.25, 25,0.23, 27,0.21, 31,0.19, 33,0.31, 36,0.27, 40,0.3, 42,0.29, 45,0.345, 48,0.33, 53,0.32, 56,0.3, 60,0.33, 64,0.38, 66,0.37, 70,0.34, 73,0.35, 77,0.36, 80,0.38, 82,0.37, 86,0.39, 88,0.4, 90,0.39, 92,0.375]
];
const netSingular = [
 [10,0.87, 11,0.89, 14,0.67, 18,0.69, 20,0.65, 22,0.6, 24,0.53, 27,0.5, 30,0.525, 35,0.55, 38,0.605],
 [10,0.28, 11,0.25, 13,0.45, 16,0.62, 18,0.64, 22,0.67, 25,0.7, 28,0.75, 31,0.7, 33,0.72, 46,0.73, 53,0.69, 60,0.71, 62,0.72, 65,0.74, 72,0.75, 81,0.78, 85,0.75, 88,0.76, 89,0.73]
];
const netPlural = [
 [10,0.28, 11,0.25, 12,0.335, 15,0.29, 17,0.25, 18,0.23, 20,0.25, 22,0.3, 23,0.27, 24,0.33, 27,0.38, 28,0.43, 30,0.42, 32,0.47, 34,0.46, 36,0.44, 38,0.42, 42,0.39, 44,0.39, 46,0.405, 48,0.395],
 [10,0.23, 11,0.2, 14,0.14, 16,0.25, 18,0.26, 20,0.33, 22,0.41, 24,0.39, 27,0.42, 29,0.43, 30,0.42, 32,0.465, 34,0.46, 36,0.45, 38,0.43, 40,0.45, 42,0.5, 44,0.46, 46,0.48, 47,0.5, 48,0.48, 50,0.45, 52,0.465, 54,0.45, 55,0.47, 56,0.46, 58,0.47, 60,0.465, 62,0.44, 64,0.43, 66,0.42, 67,0.435, 70,0.415, 71,0.43, 74,0.4, 77,0.41, 80,0.4, 85,0.395, 90,0.4, 95,0.395, 97,0.385, 98,0.4]
];

// ---------------- (c) Delicious example resource ----------------
const exDelReal = [0,0, 1,0, 2,0.2, 5,0.05, 10,0.2, 15,0.1, 20,0.2, 30,0.12, 40,0.2, 50,0.14, 60,0.19, 70,0.15, 80,0.19, 100,0.16, 120,0.13, 140,0.11, 160,0.1, 180,0.12, 200,0.14, 240,0.135, 300,0.14, 360,0.13, 400,0.14, 450,0.145, 500,0.14, 560,0.14, 600,0.13, 700,0.12, 760,0.12, 800,0.13, 900,0.145, 1000,0.155, 1100,0.15, 1200,0.145, 1300,0.145, 1400,0.15, 1500,0.15, 1620,0.155];
const exDelRand = [1,0.5, 3,0.1, 10,0.15, 20,0.09, 30,0.13, 50,0.1, 70,0.14, 100,0.17, 120,0.18, 150,0.185, 180,0.17, 200,0.16, 250,0.145, 300,0.14, 350,0.135, 400,0.125, 450,0.125, 500,0.13, 600,0.14, 700,0.145, 800,0.15, 900,0.16, 1000,0.16, 1100,0.16, 1200,0.16, 1300,0.16, 1400,0.16, 1500,0.155, 1620,0.155];
const exDelRealWin = [100,0.18, 120,0.12, 150,0.1, 160,0.06, 170,0.13, 190,0.17, 210,0.16, 230,0.17, 250,0.12, 270,0.17, 290,0.14, 310,0.11, 330,0.15, 350,0.12, 370,0.13, 390,0.16, 410,0.14, 430,0.17, 450,0.15, 470,0.21, 490,0.17, 510,0.12, 530,0.11, 560,0.13, 580,0.08, 600,0.06, 620,0.06, 650,0.03, 670,0, 690,0, 700,0.04, 720,0.08, 740,0.1, 760,0.15, 780,0.17, 800,0.22, 820,0.25, 840,0.31, 850,0.27, 870,0.25, 890,0.24, 900,0.26, 920,0.22, 940,0.24, 960,0.21, 980,0.25, 1000,0.18, 1020,0.14, 1040,0.09, 1060,0.05, 1080,0.11, 1100,0.09, 1120,0.14, 1140,0.13, 1160,0.17, 1180,0.12, 1200,0.08, 1220,0.1, 1240,0.13, 1260,0.15, 1280,0.12, 1300,0.15, 1320,0.16, 1340,0.14, 1360,0.17, 1380,0.16, 1400,0.19, 1420,0.16, 1440,0.12, 1460,0.11, 1480,0.15, 1500,0.14, 1520,0.17, 1540,0.2, 1560,0.22, 1580,0.23, 1600,0.22, 1620,0.2];
const exDelRandWin = [100,0.18, 130,0.21, 150,0.22, 170,0.24, 190,0.2, 210,0.16, 230,0.12, 250,0.06, 270,0.03, 290,0.07, 310,0.11, 330,0.14, 350,0.09, 370,0.13, 390,0.11, 410,0.07, 430,0.05, 450,0.1, 470,0.08, 490,0.13, 510,0.18, 530,0.2, 550,0.21, 570,0.24, 590,0.28, 610,0.24, 630,0.2, 650,0.16, 670,0.15, 690,0.13, 710,0.18, 730,0.2, 750,0.22, 770,0.18, 790,0.24, 810,0.27, 830,0.22, 850,0.18, 870,0.16, 890,0.15, 910,0.17, 930,0.15, 950,0.13, 970,0.12, 990,0.15, 1010,0.16, 1030,0.2, 1050,0.21, 1070,0.19, 1090,0.22, 1110,0.23, 1130,0.21, 1150,0.19, 1170,0.14, 1190,0.09, 1210,0.08, 1230,0.1, 1250,0.09, 1270,0.12, 1290,0.13, 1310,0.16, 1330,0.18, 1350,0.21, 1370,0.24, 1390,0.22, 1410,0.24, 1430,0.22, 1450,0.18, 1470,0.16, 1490,0.15, 1510,0.13, 1530,0.08, 1550,0.06, 1570,0.07, 1590,0.06, 1610,0.11, 1620,0.08];

// ---------------- (c) CiteULike example resource ----------------
const exCiteReal = [1,0, 2,0, 3,0, 4,0, 5,0, 10,0.25, 11,0.2, 13,0.17, 14,0.14, 16,0.25, 18,0.22, 20,0.26, 22,0.3, 23,0.27, 24,0.33, 26,0.38, 28,0.43, 30,0.44, 32,0.46, 33,0.44, 34,0.47, 36,0.46, 38,0.44, 40,0.46, 42,0.5, 44,0.46, 46,0.48, 47,0.5, 48,0.48, 50,0.46, 52,0.45, 54,0.47, 55,0.45, 56,0.47, 58,0.46, 60,0.47, 62,0.45, 64,0.44, 66,0.43, 67,0.44, 68,0.43, 70,0.42, 71,0.43, 72,0.42, 74,0.4, 76,0.41, 78,0.4, 80,0.4, 85,0.395, 90,0.4, 95,0.395, 97,0.385, 98,0.4];
const exCiteRand = [1,0, 2,0, 3,0, 4,0, 6,0.5, 9,0.33, 10,0.5, 12,0.4, 14,0.5, 17,0.57, 18,0.5, 21,0.6, 22,0.55, 26,0.5, 28,0.54, 29,0.5, 32,0.47, 34,0.45, 36,0.41, 37,0.44, 40,0.38, 41,0.36, 42,0.38, 46,0.36, 50,0.32, 51,0.32, 52,0.34, 53,0.33, 55,0.35, 58,0.34, 59,0.32, 61,0.34, 62,0.32, 65,0.35, 68,0.36, 70,0.38, 72,0.37, 74,0.38, 78,0.38, 82,0.39, 84,0.38, 88,0.39, 92,0.39, 96,0.39, 98,0.39];
const exCiteRealWin = [18,0.22, 20,0.26, 22,0.32, 23,0.33, 24,0.4, 26,0.45, 28,0.5, 30,0.55, 33,0.6, 34,0.7, 37,0.6, 38,0.6, 41,0.67, 43,0.67, 44,0.58, 46,0.62, 47,0.62, 48,0.53, 50,0.47, 52,0.5, 54,0.43, 56,0.5, 58,0.5, 60,0.5, 61,0.36, 63,0.38, 65,0.31, 68,0.31, 70,0.31, 71,0.38, 73,0.27, 77,0.29, 80,0.27, 85,0.24, 88,0.22, 90,0.33, 95,0.33, 96,0.33, 97,0.17, 98,0.33];
const exCiteRandWin = [27,0.55, 30,0.52, 32,0.47, 34,0.43, 35,0.36, 38,0.36, 40,0.28, 41,0.17, 42,0.23, 45,0.23, 47,0.21, 48,0.14, 51,0.14, 52,0.21, 53,0.2, 55,0.27, 57,0.21, 59,0.21, 60,0.29, 62,0.22, 64,0.29, 66,0.35, 68,0.46, 70,0.43, 71,0.5, 73,0.43, 78,0.51, 80,0.6, 82,0.67, 83,0.55, 86,0.6, 88,0.5, 89,0.5, 90,0.45, 92,0.445, 96,0.445];

// ---------------- helpers ----------------
const RED = "#ff0000", CYAN = "#00ffff", GRAY = "#7a7a7a", LRED = "#ff7a7a", LGRAY = "#bdbdbd";
const FONT = "'Liberation Serif', 'Times New Roman', serif";
const rows = (list, key) => list.flatMap((flat, i) => {
  const out = [];
  for (let j = 0; j < flat.length; j += 2) out.push({x: flat[j], y: flat[j + 1], id: key + i});
  return out;
});
const fmtY = d => String(+d.toFixed(1));
const fmtX = d => String(d);

function panel(cfg) {
  const marks = [
    Plot.gridX({ticks: cfg.xTicks, stroke: "#6a6a6a", strokeOpacity: 1, strokeDasharray: "1,2"}),
    Plot.gridY({ticks: yTicks, stroke: "#6a6a6a", strokeOpacity: 1, strokeDasharray: "1,2"}),
    ...cfg.series.map(s => Plot.line(s.data, {x: "x", y: "y", z: "id", stroke: s.color, strokeWidth: s.w || 1.3,
      strokeDasharray: s.dash || null, clip: true, curve: "linear"})),
    Plot.axisX({ticks: cfg.xTicks, tickFormat: fmtX, tickSize: 0, tickPadding: 7, fontFamily: FONT, fontSize: 16,
      label: "number of posts with a resource", labelAnchor: "center", labelArrow: "none", labelOffset: 47}),
    Plot.axisY({ticks: yTicks, tickFormat: fmtY, tickSize: 0, tickPadding: 10, fontFamily: FONT, fontSize: 16,
      label: "singular fraction", labelAnchor: "center", labelArrow: "none", labelOffset: 70}),
    Plot.frame({stroke: "#000", strokeWidth: 1.4})
  ];
  const svg = Plot.plot({
    width: cfg.width, height: 310,
    marginLeft: cfg.ml, marginRight: cfg.mr, marginTop: cfg.mt, marginBottom: 68,
    x: {domain: cfg.xDomain}, y: {domain: [0, 1]},
    style: {fontFamily: FONT, fontSize: "16px", background: "transparent", color: "#000", overflow: "visible"},
    marks
  });
  const div = document.createElement("div");
  div.className = "panel";
  div.style.left = cfg.left + "px"; div.style.top = cfg.top + "px";
  div.appendChild(svg);
  document.body.appendChild(div);
}

function legend(cfg) {
  if (cfg.box) {
    const b = document.createElement("div");
    b.className = "lbox";
    Object.assign(b.style, {left: cfg.box[0] + "px", top: cfg.box[1] + "px", width: (cfg.box[2] - cfg.box[0]) + "px", height: (cfg.box[3] - cfg.box[1]) + "px"});
    document.body.appendChild(b);
  }
  cfg.items.forEach((it, i) => {
    const y = cfg.rowY[i];
    const t = document.createElement("div");
    t.className = "lrow";
    t.style.left = cfg.textRight + "px"; t.style.top = y + "px";
    t.textContent = it.label;
    document.body.appendChild(t);
    const ns = "http://www.w3.org/2000/svg";
    const s = document.createElementNS(ns, "svg");
    s.setAttribute("class", "lsvg");
    s.setAttribute("width", cfg.lineX2 - cfg.lineX1); s.setAttribute("height", 4);
    s.style.left = cfg.lineX1 + "px"; s.style.top = (y - 2) + "px";
    const l = document.createElementNS(ns, "line");
    l.setAttribute("x1", 0); l.setAttribute("x2", cfg.lineX2 - cfg.lineX1);
    l.setAttribute("y1", 2); l.setAttribute("y2", 2);
    l.setAttribute("stroke", it.color); l.setAttribute("stroke-width", it.w || 1.5);
    if (it.dash) l.setAttribute("stroke-dasharray", it.dash);
    s.appendChild(l);
    document.body.appendChild(s);
  });
}

const even = (d, i) => i % 2 === 0, odd = (d, i) => i % 2 === 1;

// ---------------- top row: Delicious ----------------
panel({left: 0, top: 30, width: 420, ml: 80, mr: 19, mt: 11, xDomain: [0, 1800], xTicks: xTicksDel,
  series: [
    {data: rows(delSingular.filter(even), "se"), color: RED, w: 1.5},
    {data: rows(delPlural, "p"), color: CYAN, w: 1.5},
    {data: rows(delSingular.filter(odd), "so"), color: RED, w: 1.5}
  ]});
panel({left: 420, top: 30, width: 420, ml: 83, mr: 15, mt: 11, xDomain: [0, 1200], xTicks: xTicksBlog,
  series: [
    {data: rows(blogNoTag, "n"), color: GRAY},
    {data: rows(blogSingular, "s"), color: RED},
    {data: rows(blogPlural, "p"), color: CYAN}
  ]});
panel({left: 850, top: 30, width: 426, ml: 77, mr: 28, mt: 11, xDomain: [0, 1800], xTicks: xTicksDel,
  series: [
    {data: rows([exDelRandWin], "rw"), color: LGRAY, w: 1, dash: "3,1.5"},
    {data: rows([exDelRealWin], "ew"), color: LRED, w: 1, dash: "3,1.5"},
    {data: rows([exDelRand], "r"), color: GRAY, w: 1.3},
    {data: rows([exDelReal], "e"), color: RED, w: 1.5}
  ]});

// ---------------- bottom row: CiteULike ----------------
panel({left: 0, top: 356, width: 420, ml: 80, mr: 19, mt: 10, xDomain: [0, 180], xTicks: xTicksCiteAll,
  series: [
    {data: rows(citeSingular.filter(even), "se"), color: RED},
    {data: rows(citePlural, "p"), color: CYAN},
    {data: rows(citeSingular.filter(odd), "so"), color: RED}
  ]});
panel({left: 420, top: 356, width: 420, ml: 83, mr: 15, mt: 10, xDomain: [10, 100], xTicks: xTicksCiteNet,
  series: [
    {data: rows(netNoTag, "n"), color: GRAY},
    {data: rows(netSingular, "s"), color: RED},
    {data: rows(netPlural, "p"), color: CYAN}
  ]});
panel({left: 850, top: 356, width: 426, ml: 77, mr: 28, mt: 10, xDomain: [0, 100], xTicks: xTicksCiteEx,
  series: [
    {data: rows([exCiteRandWin], "rw"), color: LGRAY, w: 1, dash: "3,1.5"},
    {data: rows([exCiteRealWin], "ew"), color: LRED, w: 1, dash: "3,1.5"},
    {data: rows([exCiteRand], "r"), color: GRAY, w: 1.3},
    {data: rows([exCiteReal], "e"), color: RED, w: 1.5}
  ]});

// ---------------- legends ----------------
const twoItems = [{label: "singular form in title", color: RED}, {label: "plural form in title", color: CYAN}];
const threeItems = [{label: "no tag form in title", color: GRAY}, {label: "singular form in title", color: RED}, {label: "plural form in title", color: CYAN}];
const exItems = w => [
  {label: "real post stream", color: RED, w: 1.6},
  {label: "randomized post stream", color: GRAY, w: 1.3},
  {label: `real post stream (window=${w})`, color: LRED, w: 1, dash: "3,1.5"},
  {label: `randomized post stream (window=${w})`, color: LGRAY, w: 1, dash: "3,1.5"}
];
legend({items: twoItems, rowY: [149, 166], textRight: 330, lineX1: 340, lineX2: 382});
legend({items: threeItems, rowY: [232, 247, 262], textRight: 753, lineX1: 757, lineX2: 806, box: [543, 222, 818, 271]});
legend({items: exItems(100), rowY: [53, 68.5, 84.5, 100], textRight: 1177, lineX1: 1187, lineX2: 1229, box: [928, 42, 1234, 107]});
legend({items: twoItems, rowY: [477, 492], textRight: 330, lineX1: 340, lineX2: 382});
legend({items: threeItems, rowY: [558, 573, 589], textRight: 753, lineX1: 757, lineX2: 806, box: [590, 548, 818, 597]});
legend({items: exItems(20), rowY: [378, 394.5, 411, 427], textRight: 1177, lineX1: 1187, lineX2: 1229, box: [928, 367, 1234, 436]});
</script>

<div class="cap" style="left:20px;top:686px">
<div>(a) post streams of all resources</div>
<div>traced in the experiment (re-</div>
<div>sources with no tag form in title</div>
<div class="last">omitted for clarity)</div>
</div>
<div class="cap" style="left:462px;top:686px;width:364px">
<div>(b) resources traced for tag <i>blog</i></div>
<div>(<i>Delicious</i>) and tag <i>network</i> (<i>Ci-</i></div>
<div><i>teULike</i>) – two most frequent of</div>
<div class="last">each kind</div>
</div>
<div class="cap" style="left:888px;top:686px;width:371px">
<div>(c) post stream of an example re-</div>
<div>source and its randomized ver-</div>
<div>sion, with sliding window results</div>
</div>
</body></html>
